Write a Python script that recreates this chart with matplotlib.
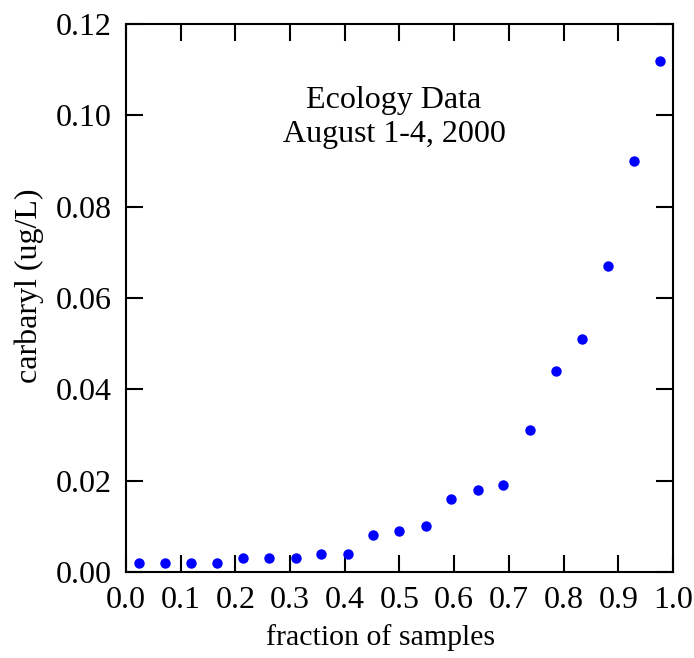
import matplotlib
matplotlib.use("Agg")
import matplotlib.pyplot as plt
import numpy as np

fraction = [0.0238, 0.0714, 0.119, 0.167, 0.214, 0.262, 0.310, 0.357, 0.405, 0.452,
            0.500, 0.548, 0.595, 0.643, 0.690, 0.738, 0.786, 0.833, 0.881, 0.929, 0.976]
carbaryl = [0.002, 0.002, 0.002, 0.002, 0.003, 0.003, 0.003, 0.004, 0.004, 0.008,
            0.009, 0.010, 0.016, 0.018, 0.019, 0.031, 0.044, 0.051, 0.067, 0.090, 0.112]
xticks = [0.0, 0.1, 0.2, 0.3, 0.4, 0.5, 0.6, 0.7, 0.8, 0.9, 1.0]
yticks = [0.0, 0.02, 0.04, 0.06, 0.08, 0.10, 0.12]

plt.rcParams['font.family'] = ['Liberation Serif', 'DejaVu Serif']
fig = plt.figure(figsize=(6.94, 6.58), dpi=100)
ax = fig.add_axes([126/694, 1-572/658, (673-126)/694, (572-24)/658])
ax.plot(fraction, carbaryl, 'o', color='#0000ff', markersize=7.5, markeredgewidth=0)
ax.set_xlim(0, 1)
ax.set_ylim(0, 0.12)
ax.set_xticks(xticks)
ax.set_xticklabels([f"{t:.1f}" for t in xticks])
ax.set_yticks(yticks)
ax.set_yticklabels([f"{t:.2f}" for t in yticks])
ax.tick_params(direction='in', length=12, width=1.5, labelsize=23, top=True, right=True)
ax.tick_params(axis='x', pad=10)
ax.tick_params(axis='y', pad=10)
for s in ax.spines.values():
    s.set_linewidth(1.5)
ax.set_xlabel('fraction of samples', fontsize=21.5)
ax.xaxis.set_label_coords(0.466, -0.095)
ax.set_ylabel('carbaryl (ug/L)', fontsize=23)
ax.yaxis.set_label_coords(-0.150, 0.522)
ax.text(0.49, 0.0995, 'Ecology Data\nAugust 1-4, 2000', ha='center', va='center',
        fontsize=23, linespacing=1.2, transform=ax.transData)
fig.savefig('out.png', dpi=100)
